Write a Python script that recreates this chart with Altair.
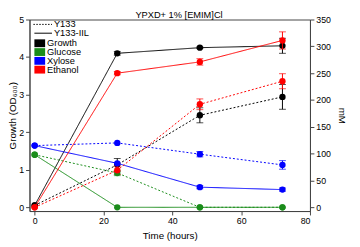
import altair as alt
import pandas as pd

times = [0, 24, 48, 72]

# Growth (OD600), left axis
growth_y133 = [0.05, 1.13, 2.45, 2.94]
growth_y133_err = [0.0, 0.17, 0.2, 0.33]
growth_iil = [0.05, 4.1, 4.25, 4.3]
growth_iil_err = [0.0, 0.05, 0.02, 0.2]

# Metabolites (mM), right axis
glucose_y133 = [98, 64, 0, 0]
glucose_y133_err = [0, 5, 0, 0]
glucose_iil = [98, 0, 0, 0]
glucose_iil_err = [0, 0, 0, 0]
xylose_y133 = [115, 120, 99, 79]
xylose_y133_err = [0, 0, 5, 8]
xylose_iil = [115, 82, 37.5, 33]
xylose_iil_err = [0, 0, 3, 3]
ethanol_y133 = [0, 69, 192, 235]
ethanol_y133_err = [0, 8, 10, 14]
ethanol_iil = [0, 250, 271, 311]
ethanol_iil_err = [0, 3, 6, 16]

series_names = ["Growth", "Glucose", "Xylose", "Ethanol"]
series_colors = ["#000000", "#1a8c1a", "#0000ff", "#ff0000"]
strains = ["Y133", "Y133-IIL"]
title_text = "YPXD+ 1% [EMIM]Cl"

FONT = "Liberation Sans"


def rows(series, strain, vals, errs):
    return [
        {"t": t, "v": v, "lo": v - e, "hi": v + e, "series": series, "strain": strain}
        for t, v, e in zip(times, vals, errs)
    ]


growth_df = pd.DataFrame(
    rows("Growth", "Y133", growth_y133, growth_y133_err)
    + rows("Growth", "Y133-IIL", growth_iil, growth_iil_err)
)
met_df = pd.DataFrame(
    rows("Glucose", "Y133", glucose_y133, glucose_y133_err)
    + rows("Glucose", "Y133-IIL", glucose_iil, glucose_iil_err)
    + rows("Xylose", "Y133", xylose_y133, xylose_y133_err)
    + rows("Xylose", "Y133-IIL", xylose_iil, xylose_iil_err)
    + rows("Ethanol", "Y133", ethanol_y133, ethanol_y133_err)
    + rows("Ethanol", "Y133-IIL", ethanol_iil, ethanol_iil_err)
)

xscale = alt.Scale(domain=[-1.5, 80], nice=False, zero=False)
xaxis = alt.Axis(values=[0, 20, 40, 60, 80], title="Time (hours)", grid=False)
color = alt.Color("series:N", scale=alt.Scale(domain=series_names, range=series_colors), legend=None)
dash = alt.StrokeDash("strain:N", scale=alt.Scale(domain=strains, range=[[2, 2], [1, 0]]), legend=None)


def layer_for(df, yfield_scale, yaxis):
    base = alt.Chart(df)
    x = alt.X("t:Q", scale=xscale, axis=xaxis)
    y = alt.Y("v:Q", scale=yfield_scale, axis=yaxis)
    line = base.mark_line(strokeWidth=1).encode(x=x, y=y, color=color, strokeDash=dash,
                                                 detail="strain:N")
    err = base.transform_filter("datum.hi > datum.lo").mark_rule(strokeWidth=1).encode(
        x=x, y=alt.Y("lo:Q", scale=yfield_scale, axis=yaxis), y2="hi:Q", color=color)
    cap_lo = base.transform_filter("datum.hi > datum.lo").mark_tick(
        orient="horizontal", size=7, thickness=1).encode(
        x=x, y=alt.Y("lo:Q", scale=yfield_scale, axis=yaxis), color=color)
    cap_hi = base.transform_filter("datum.hi > datum.lo").mark_tick(
        orient="horizontal", size=7, thickness=1).encode(
        x=x, y=alt.Y("hi:Q", scale=yfield_scale, axis=yaxis), color=color)
    pts = base.mark_circle(size=42, opacity=1).encode(x=x, y=y, color=color)
    return alt.layer(line, err, cap_lo, cap_hi, pts)


left_scale = alt.Scale(domain=[-0.1, 5], nice=False, zero=False)
left_axis = alt.Axis(values=[0, 1, 2, 3, 4, 5], title="Growth (OD₆₀₀)", grid=False,
                     orient="left", titlePadding=1)
right_scale = alt.Scale(domain=[-7, 350], nice=False, zero=False)
right_axis = alt.Axis(values=[0, 50, 100, 150, 200, 250, 300, 350], title="mM", grid=False,
                      orient="right", titlePadding=6)

left = layer_for(growth_df, left_scale, left_axis)
right = layer_for(met_df, right_scale, right_axis)

# Legend and title (manual)
leg_df = pd.DataFrame({"a": [0]})
lb = alt.Chart(leg_df)
LFS = 9.5
legend_parts = [
    lb.mark_text(text=title_text, align="center", baseline="alphabetic", fontSize=9.5,
                 font=FONT).encode(x=alt.value(153), y=alt.value(-1.5)),
    lb.mark_rule(color="#000000", strokeWidth=1, strokeDash=[1.5, 1.5]).encode(
        x=alt.value(4), x2=alt.value(23), y=alt.value(5)),
    lb.mark_text(text="Y133", align="left", baseline="middle", fontSize=LFS, font=FONT).encode(
        x=alt.value(25), y=alt.value(5)),
    lb.mark_rule(color="#000000", strokeWidth=1).encode(
        x=alt.value(5), x2=alt.value(23), y=alt.value(14)),
    lb.mark_text(text="Y133-IIL", align="left", baseline="middle", fontSize=LFS, font=FONT).encode(
        x=alt.value(25), y=alt.value(13.5)),
]
for i, (name, col) in enumerate(zip(series_names, series_colors)):
    yc = 24.3 + 9 * i
    legend_parts.append(
        lb.mark_rect(color=col).encode(x=alt.value(5), x2=alt.value(16),
                                       y=alt.value(yc - 4), y2=alt.value(yc + 4)))
    legend_parts.append(
        lb.mark_text(text=name, align="left", baseline="middle", fontSize=LFS, font=FONT).encode(
            x=alt.value(18), y=alt.value(yc)))

chart = alt.layer(left, right, *legend_parts).resolve_scale(y="independent").properties(
    width=287,
    height=196,
    autosize=alt.AutoSizeParams(type="none"),
    padding={"left": 22, "top": 9, "right": 43, "bottom": 34},
).configure_view(stroke="#444444", strokeWidth=1).configure_axis(
    labelFont=FONT, titleFont=FONT, labelFontSize=9, titleFontSize=10,
    titleFontWeight="normal", domainColor="#444444", tickColor="#444444",
    tickSize=4, labelColor="#000000", titleColor="#000000", labelPadding=2,
).configure_axisBottom(titlePadding=5)

chart.save("out.html", embed_options={"renderer": "svg", "actions": False})
